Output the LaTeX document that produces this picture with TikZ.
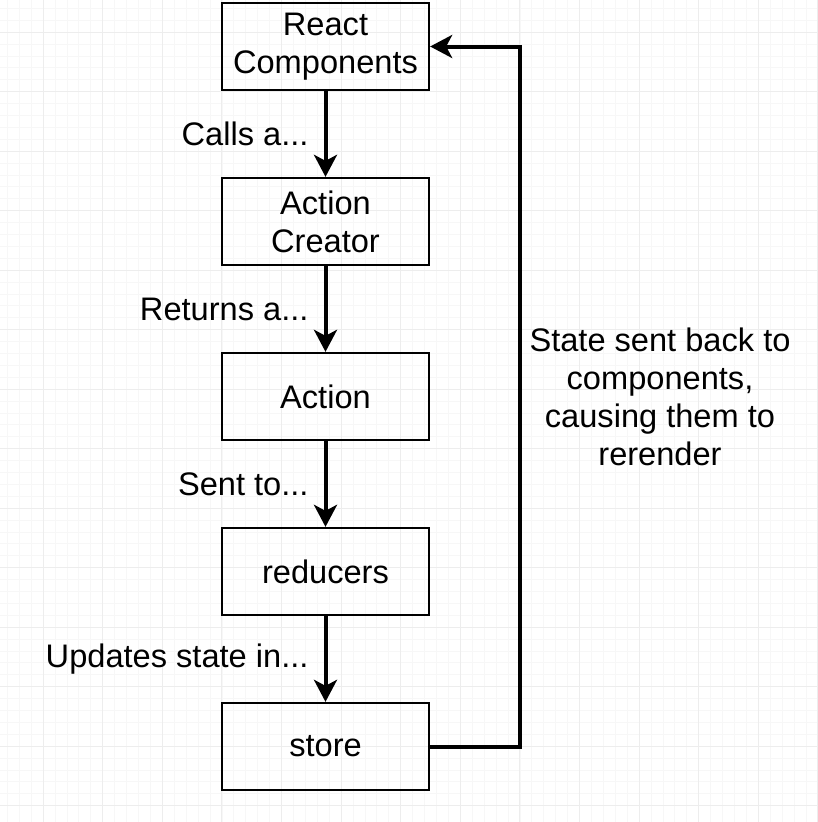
\documentclass[tikz,border=0pt]{standalone}
\usepackage{fontspec}
\setmainfont{Liberation Sans}
\usetikzlibrary{arrows.meta,positioning}

\tikzset{
    box/.style={draw, line width=2.3pt, minimum width=207pt, minimum height=87pt, align=center},
    flow/.style={line width=4pt, -{Stealth[length=22pt,width=23pt,inset=6pt]}},
    lbl/.style={inner sep=0pt, left=15pt},
    minorgrid/.style={draw=black!3, line width=0.6pt},
    majorgrid/.style={draw=black!7, line width=0.8pt}
}

\begin{document}
\begin{tikzpicture}[x=1pt, y=-1pt, node distance=85.7pt, font=\fontsize{32.6}{38}\selectfont]
    \useasboundingbox [fill=white] (0,0) rectangle (818,822);
    
    % background grid
    \foreach \i in {-3,...,65}{
    	\draw [minorgrid] ({43+11.92*\i},0) -- ({43+11.92*\i},822);
    	\draw [minorgrid] (0,{32+11.9*\i}) -- (818,{32+11.9*\i});
    }
    \foreach \i in {0,...,13}{
    	\draw [majorgrid] ({43+59.6*\i},0) -- ({43+59.6*\i},822);
    	\draw [majorgrid] (0,{32+59.5*\i}) -- (818,{32+59.5*\i});
    }
    
    \node [box] (react) at (325.5,46.5) {React\\Components};
    \node [box, below=of react] (creator) {Action\\Creator};
    \node [box, below=of creator] (action) {Action};
    \node [box, below=of action] (reducers) {reducers};
    \node [box, below=of reducers] (store) {store};
    
    \draw [flow] (react) -- node[lbl] {Calls a...} (creator);
    \draw [flow] (creator) -- node[lbl] {Returns a...} (action);
    \draw [flow] (action) -- node[lbl] {Sent to...} (reducers);
    \draw [flow] (reducers) -- node[lbl] {Updates state in...} (store);
    
    \coordinate (back) at (520,400);
    \draw [flow] (store.east) -| (back) |- (react.east);
    \node [align=center] (note) at (660,397) {State sent back to\\components,\\causing them to\\rerender};
    
\end{tikzpicture}
\end{document}
